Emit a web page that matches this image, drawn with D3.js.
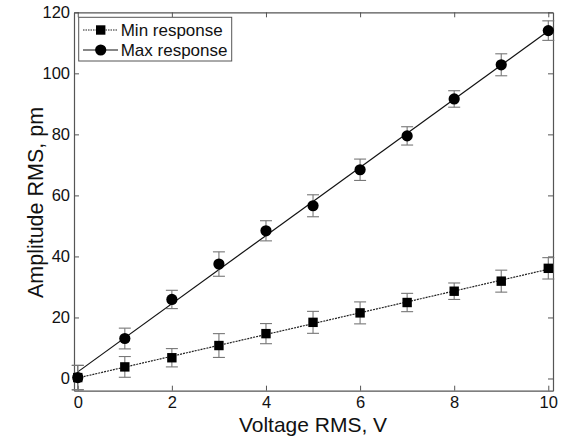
<!DOCTYPE html>
<html><head><meta charset="utf-8">
<script src="https://cdn.jsdelivr.net/npm/d3@7"></script>
<style>
html,body{margin:0;padding:0;background:#fff;}
svg text{font-family:"Liberation Sans",Arial,sans-serif;fill:#111;}
</style></head>
<body>
<svg id="c" width="573" height="439"></svg>
<script>
const voltage = [0,1,2,3,4,5,6,7,8,9,10];
const minResponse = [0.3,3.8,6.8,10.8,14.7,18.4,21.5,24.9,28.6,31.9,36.1];
const minError    = [4.0,3.4,3.0,3.9,3.3,3.6,3.6,3.0,2.7,3.6,3.5];
const maxResponse = [0.3,13.1,25.9,37.5,48.4,56.6,68.4,79.5,91.6,102.8,114.0];
const maxError    = [4.0,3.4,3.0,4.0,3.3,3.6,3.5,3.0,2.7,3.6,3.2];
const xTicks = [0,2,4,6,8,10];
const yTicks = [0,20,40,60,80,100,120];
const seriesNames = ["Min response","Max response"];

const svg = d3.select("#c");
const L=74, R=553, T=12.3, B=390.7;
const x = d3.scaleLinear().domain([-0.08,10.1]).range([L,R]);
const y = d3.scaleLinear().domain([-4,120]).range([B,T]);

function fit(xs, ys){
  const n=xs.length, mx=d3.mean(xs), my=d3.mean(ys);
  let sxy=0,sxx=0;
  for(let i=0;i<n;i++){sxy+=(xs[i]-mx)*(ys[i]-my);sxx+=(xs[i]-mx)**2;}
  const b=sxy/sxx, a=my-b*mx;
  return v=>a+b*v;
}

const axisColor="#555";
const gB = svg.append("g").attr("transform",`translate(0,${B})`)
  .call(d3.axisBottom(x).tickValues(xTicks).tickSizeInner(-5).tickSizeOuter(0).tickPadding(6));
const gT = svg.append("g").attr("transform",`translate(0,${T})`)
  .call(d3.axisTop(x).tickValues(xTicks).tickSizeInner(-5).tickSizeOuter(0).tickFormat(""));
const gL = svg.append("g").attr("transform",`translate(${L},0)`)
  .call(d3.axisLeft(y).tickValues(yTicks).tickSizeInner(-5).tickSizeOuter(0).tickPadding(4));
const gR = svg.append("g").attr("transform",`translate(${R},0)`)
  .call(d3.axisRight(y).tickValues(yTicks).tickSizeInner(-5).tickSizeOuter(0).tickFormat(""));
[gB,gT,gL,gR].forEach(g=>{
  g.selectAll("path").attr("stroke",axisColor).attr("stroke-width",1.2);
  g.selectAll("line").attr("stroke",axisColor);
  g.selectAll("text").attr("font-size",16.5).attr("font-family","Liberation Sans, Arial, sans-serif").attr("fill","#111");
});

svg.append("defs").append("clipPath").attr("id","pc")
  .append("rect").attr("x",L).attr("y",T).attr("width",R-L).attr("height",B-T);
const plot = svg.append("g").attr("clip-path","url(#pc)");

const series = [
  {name:seriesNames[0], ys:minResponse, err:minError, dash:"2,1", color:"#222", marker:"square"},
  {name:seriesNames[1], ys:maxResponse, err:maxError, dash:null, color:"#111", marker:"circle"}
];

series.forEach(s=>{
  const f = fit(voltage, s.ys);
  const x0 = voltage[0], x1 = voltage[voltage.length-1];
  const p = plot.append("line")
    .attr("x1",x(x0)).attr("y1",y(f(x0)))
    .attr("x2",x(x1)).attr("y2",y(f(x1)))
    .attr("stroke",s.color).attr("stroke-width",1.2);
  if(s.dash) p.attr("stroke-dasharray",s.dash);
});

series.forEach(s=>{
  const g = svg.append("g").attr("stroke","#777").attr("stroke-width",1.1);
  voltage.forEach((v,i)=>{
    const cx=x(v), y1=y(s.ys[i]+s.err[i]), y2=y(s.ys[i]-s.err[i]);
    g.append("line").attr("x1",cx).attr("x2",cx).attr("y1",y1).attr("y2",y2);
    g.append("line").attr("x1",cx-6).attr("x2",cx+6).attr("y1",y1).attr("y2",y1);
    g.append("line").attr("x1",cx-6).attr("x2",cx+6).attr("y1",y2).attr("y2",y2);
  });
});

function drawMarker(g, type, cx, cy){
  if(type==="circle") g.append("circle").attr("cx",cx).attr("cy",cy).attr("r",5.6).attr("fill","#000");
  else g.append("rect").attr("x",cx-4.7).attr("y",cy-4.7).attr("width",9.4).attr("height",9.4).attr("fill","#000");
}
series.forEach(s=>{
  const g = svg.append("g");
  voltage.forEach((v,i)=>drawMarker(g,s.marker,x(v),y(s.ys[i])));
});

// legend
const lg = svg.append("g");
lg.append("rect").attr("x",78.7).attr("y",17.3).attr("width",153).attr("height",43.7)
  .attr("fill","#fff").attr("stroke",axisColor).attr("stroke-width",1);
series.forEach((s,i)=>{
  const cy = 30 + i*20;
  const ln = lg.append("line").attr("x1",83).attr("x2",118).attr("y1",cy).attr("y2",cy)
    .attr("stroke",s.color).attr("stroke-width",1.2);
  if(s.dash) ln.attr("stroke-dasharray","1.5,1");
  drawMarker(lg,s.marker,100.7,cy);
  lg.append("text").attr("x",120.7).attr("y",cy).attr("dy","0.36em").attr("font-size",17).text(s.name);
});

// axis titles
svg.append("text").attr("x",313).attr("y",432).attr("text-anchor","middle").attr("font-size",21).text("Voltage RMS, V");
svg.append("text").attr("transform","translate(42.5,202.5) rotate(-90)").attr("text-anchor","middle").attr("font-size",21.5).text("Amplitude RMS, pm");
</script>
</body></html>
